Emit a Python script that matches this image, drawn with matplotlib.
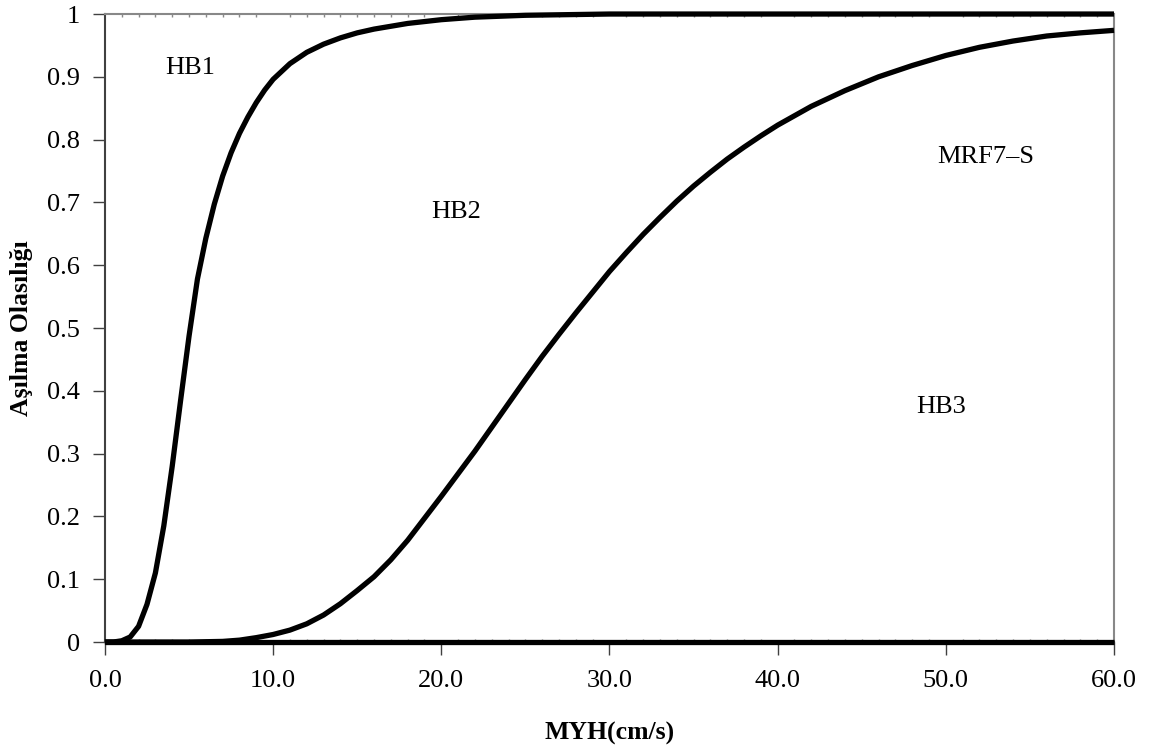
import numpy as np
import matplotlib.pyplot as plt
from matplotlib.ticker import MultipleLocator, FormatStrFormatter

plt.rcParams['font.family'] = ['Liberation Serif', 'DejaVu Serif']

# HB1 / HB2 limit curves
hb1_x = [0.0, 0.5, 1.0, 1.5, 2.0, 2.5, 3.0, 3.5, 4.0, 4.5, 5.0, 5.5, 6.0, 6.5,
         7.0, 7.5, 8.0, 8.5, 9.0, 9.5, 10.0, 11.0, 12.0, 13.0, 14.0, 15.0, 16.0,
         18.0, 20.0, 22.0, 25.0, 30.0, 40.0, 50.0, 60.0]
hb1_y = [0.0, 0.0, 0.002, 0.008, 0.025, 0.06, 0.11, 0.185, 0.28, 0.385, 0.487, 0.578,
         0.643, 0.697, 0.742, 0.779, 0.81, 0.836, 0.859, 0.879, 0.896, 0.921, 0.939,
         0.952, 0.962, 0.97, 0.976, 0.985, 0.991, 0.995, 0.998, 1.0, 1.0, 1.0, 1.0]

hb2_x = [0.0, 5.0, 7.0, 8.0, 9.0, 10.0, 11.0, 12.0, 13.0, 14.0, 15.0, 16.0, 17.0,
         18.0, 19.0, 20.0, 21.0, 22.0, 23.0, 24.0, 25.0, 26.0, 27.0, 28.0, 29.0,
         30.0, 31.0, 32.0, 33.0, 34.0, 35.0, 36.0, 37.0, 38.0, 39.0, 40.0, 42.0,
         44.0, 46.0, 48.0, 50.0, 52.0, 54.0, 56.0, 58.0, 60.0]
hb2_y = [0.0, 0.0, 0.001, 0.003, 0.007, 0.012, 0.019, 0.029, 0.043, 0.061, 0.082,
         0.104, 0.131, 0.162, 0.197, 0.232, 0.268, 0.304, 0.342, 0.38, 0.418, 0.455,
         0.49, 0.524, 0.557, 0.59, 0.62, 0.649, 0.676, 0.702, 0.726, 0.748, 0.769,
         0.788, 0.806, 0.823, 0.853, 0.878, 0.9, 0.918, 0.934, 0.947, 0.957,
         0.965, 0.97, 0.974]

hb3_x = [0.0, 60.0]
hb3_y = [0.0, 0.0]

labels = ["HB1", "HB2", "MRF7\u2013S", "HB3"]
label_x = [5.05, 20.9, 52.4, 49.7]
label_y = [0.914, 0.685, 0.772, 0.374]

fig = plt.figure(figsize=(11.52, 7.54), dpi=100)
ax = fig.add_axes([0.0911, 0.1485, 0.8759, 0.8329])

for xs, ys in [(hb1_x, hb1_y), (hb2_x, hb2_y), (hb3_x, hb3_y)]:
    ax.plot(xs, ys, color='black', lw=3.8, solid_capstyle='butt',
            solid_joinstyle='round', clip_on=False, zorder=3)

for t, x, y in zip(labels, label_x, label_y):
    ax.text(x, y, t, fontsize=19, ha='center', va='center')

ax.set_xlim(0, 60)
ax.set_ylim(0, 1)
ax.xaxis.set_major_locator(MultipleLocator(10))
ax.xaxis.set_minor_locator(MultipleLocator(1))
ax.xaxis.set_major_formatter(FormatStrFormatter('%.1f'))
ax.set_yticks(np.arange(0, 1.01, 0.1))
ax.set_yticklabels(['0'] + ['%.1f' % v for v in np.arange(0.1, 0.95, 0.1)] + ['1'])

ax.tick_params(axis='both', which='major', direction='out', length=9, width=1,
               color='#404040', labelsize=19)
ax.tick_params(axis='x', which='major', pad=11)
ax.tick_params(axis='y', which='major', pad=9)
ax.tick_params(axis='x', which='minor', direction='in', length=2, width=1,
               color='#888888', top=True)

ax.spines['left'].set_color('#404040')
ax.spines['bottom'].set_color('#404040')
ax.spines['top'].set_color('#888888')
ax.spines['right'].set_color('#888888')
for s in ax.spines.values():
    s.set_linewidth(1.5)

ax.set_xlabel("MYH(cm/s)", fontsize=18.5, fontweight='bold')
ax.set_ylabel("Aşılma Olasılığı", fontsize=18.5, fontweight='bold')
ax.xaxis.set_label_coords(0.5, -0.127)
ax.yaxis.set_label_coords(-0.071, 0.5)

fig.savefig("out.png", dpi=100)
